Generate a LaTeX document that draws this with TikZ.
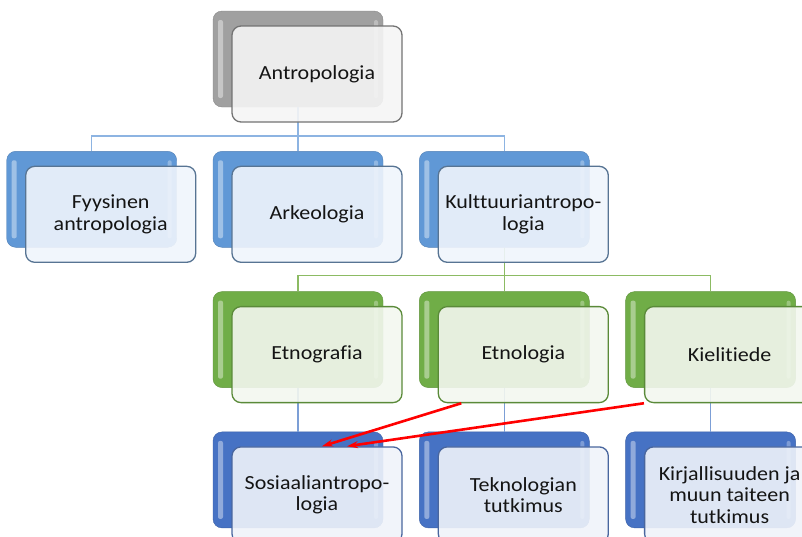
\documentclass[tikz,border=0pt]{standalone}
\usepackage{fontspec}
\setmainfont{Carlito}[FakeStretch=1.1, Ligatures=NoCommon]
\usetikzlibrary{positioning,arrows.meta}
\definecolor{topcol}{RGB}{160,160,160}
\definecolor{subcol}{RGB}{96,152,214}
\definecolor{ethcol}{RGB}{112,173,71}
\definecolor{fieldcol}{RGB}{70,114,196}
\definecolor{topfill}{RGB}{245,245,245}
\definecolor{subfill}{RGB}{240,245,252}
\definecolor{ethfill}{RGB}{243,247,239}
\definecolor{fieldfill}{RGB}{239,243,250}
\definecolor{subline}{RGB}{141,180,226}
\definecolor{ethline}{RGB}{140,187,99}
\definecolor{fieldline}{RGB}{124,159,214}
\pgfdeclarelayer{slabs}
\pgfdeclarelayer{links}
\pgfsetlayers{slabs,links,main}

\begin{document}
\begin{tikzpicture}[
  x=1pt, y=-1pt,
  every node/.style={font=\fontsize{20}{21.5}\selectfont},
  box/.style={rounded corners=9pt, line width=1.3pt, minimum width=170pt, minimum height=96pt, align=center, inner sep=2pt, fill opacity=.9, text opacity=1, text=black!92},
  topbox/.style={box, draw=black!55, fill=topfill},
  subbox/.style={box, draw=subcol!60!black!85, fill=subfill},
  ethbox/.style={box, draw=ethcol!80!black, fill=ethfill},
  fieldbox/.style={box, draw=fieldcol!75!black!90, fill=fieldfill},
  slab/.style={rounded corners=9pt, draw=#1!85!black, fill=#1, minimum width=170pt, minimum height=96pt,
    path picture={
      \fill[white, opacity=.4, rounded corners=2pt]
        ([xshift=5pt,yshift=-9pt]path picture bounding box.north west) rectangle
        ([xshift=10pt,yshift=9pt]path picture bounding box.south west);
      \fill[white, opacity=.3, rounded corners=2pt]
        ([xshift=-5pt,yshift=-9pt]path picture bounding box.north east) rectangle
        ([xshift=-9pt,yshift=9pt]path picture bounding box.south east);}},
  link/.style={line width=1.3pt, draw=#1},
  arr/.style={-{Stealth[length=11pt,width=7pt]}, line width=2.6pt, red}
]
\useasboundingbox (0,0) rectangle (802,536);

% ---------------- front boxes ----------------
\node[topbox] (antro) at (317,74) {Antropologia};

\node[subbox, below=43pt of antro] (arkeo) {Arkeologia};
\node[subbox, left=35pt of arkeo] (fyys) {Fyysinen\\antropologia};
\node[subbox, right=35pt of arkeo] (kult) {Kulttuuriantropo-\\logia};

\node[ethbox, below=43pt of arkeo] (etno) {Etnografia};
\node[ethbox, right=35pt of etno] (etnol) {Etnologia};
\node[ethbox, right=35pt of etnol] (kiel) {Kielitiede};

\node[fieldbox, below=43pt of etno] (sosi) {Sosiaaliantropo-\\logia};
\node[fieldbox, below=43pt of etnol] (tekno) {Teknologian\\tutkimus};
\node[fieldbox, below=43pt of kiel] (kirj) {Kirjallisuuden ja\\muun taiteen\\tutkimus};

% ---------------- back slabs ----------------
\begin{pgfonlayer}{slabs}
\foreach \n/\c in {antro/topcol, fyys/subcol, arkeo/subcol, kult/subcol,
                   etno/ethcol, etnol/ethcol, kiel/ethcol,
                   sosi/fieldcol, tekno/fieldcol, kirj/fieldcol}
  \node[slab=\c] (\n-b) at ([shift={(-19pt,15pt)}]\n.center) {};
\end{pgfonlayer}

% ---------------- connectors ----------------
\begin{pgfonlayer}{links}
\coordinate (bus1) at ([yshift=15pt]arkeo-b.north);
\draw[link=subline] (antro-b.south) -- (bus1) -- (arkeo-b.north);
\draw[link=subline] (fyys-b.north) |- (bus1) -| (kult-b.north);

\coordinate (bus2) at ([yshift=16pt]etnol-b.north);
\draw[link=ethline] (kult-b.south) -- (bus2) -- (etnol-b.north);
\draw[link=ethline] (etno-b.north) |- (bus2) -| (kiel-b.north);

\draw[link=fieldline] (etno-b.south) -- (sosi-b.north);
\draw[link=fieldline] (etnol-b.south) -- (tekno-b.north);
\draw[link=fieldline] (kiel-b.south) -- (kirj-b.north);
\end{pgfonlayer}

% ---------------- red arrows ----------------
\draw[arr] ([xshift=-62pt]etnol.south) -- ([xshift=5pt]sosi.north);
\draw[arr] (kiel.south west) -- ([xshift=30pt]sosi.north);

\end{tikzpicture}
\end{document}
